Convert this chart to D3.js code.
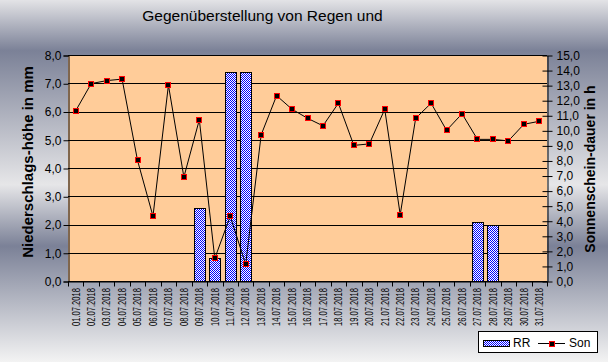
<!DOCTYPE html>
<html lang="de">
<head>
<meta charset="UTF-8">
<title>Gegenüberstellung von Regen und Sonnenschein</title>
<script src="https://d3js.org/d3.v7.min.js"></script>
<style>
    body { margin: 0; }
    svg { display: block; font-family: Arial, "Liberation Sans", sans-serif; }
</style>
</head>
<body>
<svg id="chart"></svg>
<script>
// Tage, Niederschlag (mm) und Sonnenscheindauer (h)
const days = ["01.07.2018","02.07.2018","03.07.2018","04.07.2018","05.07.2018","06.07.2018","07.07.2018","08.07.2018",
    "09.07.2018","10.07.2018","11.07.2018","12.07.2018","13.07.2018","14.07.2018","15.07.2018","16.07.2018",
    "17.07.2018","18.07.2018","19.07.2018","20.07.2018","21.07.2018","22.07.2018","23.07.2018","24.07.2018",
    "25.07.2018","26.07.2018","27.07.2018","28.07.2018","29.07.2018","30.07.2018","31.07.2018"];
const rain = [0,0,0,0,0,0,0,0, 2.6,0.8,7.4,7.4, 0,0,0,0, 0,0,0,0,0,0,0,0, 0,0, 2.1,2.0, 0,0,0];
const sun = [11.3,13.1,13.3,13.4,8.0,4.3,13.0,6.9, 10.7,1.5,4.3,1.1,9.7,12.3,11.4,10.8,
    10.3,11.8,9.0,9.1,11.4,4.4,10.8,11.8, 10.0,11.1,9.4,9.4,9.3,10.4,10.6];
const rainTicks = [0,1,2,3,4,5,6,7,8];
const sunTicks = d3.range(0, 16);
const titleText = "Gegenüberstellung von Regen und";
const leftTitle = "Niederschlags-höhe in mm";
const rightTitle = "Sonnenschein-dauer in h";
const legendNames = ["RR", "Son"];

const W = 608, H = 362;
const pLeft = 68, pRight = 547, pTop = 55, pBottom = 281;

const svg = d3.select("#chart").attr("width", W).attr("height", H);
const fmt = d => d.toFixed(1).replace(".", ",");

// Hintergrund-Verlauf
const defs = svg.append("defs");
const grad = defs.append("linearGradient").attr("id", "bg")
    .attr("x1", 0).attr("y1", 0).attr("x2", 0).attr("y2", 1);
[[0, "#e3e3e6"], [0.14, "#7b8197"], [0.51, "#e6e6e8"], [0.68, "#7b8197"], [1, "#f3f3f3"]]
    .forEach(s => grad.append("stop").attr("offset", s[0]).attr("stop-color", s[1]));

// Karo-Muster für die Balken
const pat = defs.append("pattern").attr("id", "checker")
    .attr("width", 2).attr("height", 2).attr("patternUnits", "userSpaceOnUse");
pat.append("rect").attr("width", 2).attr("height", 2).attr("fill", "#ffffff");
pat.append("rect").attr("width", 1).attr("height", 1).attr("fill", "#0000ff");
pat.append("rect").attr("x", 1).attr("y", 1).attr("width", 1).attr("height", 1).attr("fill", "#0000ff");

svg.append("rect").attr("width", W).attr("height", H).attr("fill", "url(#bg)");

svg.append("text")
    .attr("x", 262.5).attr("y", 21)
    .attr("text-anchor", "middle")
    .attr("font-size", "15.5px")
    .text(titleText);

const x = d3.scaleBand().domain(days).range([pLeft, pRight]).padding(0);
const yRain = d3.scaleLinear().domain([0, 8]).range([pBottom, pTop]);
const ySun = d3.scaleLinear().domain([0, 15]).range([pBottom, pTop]);

// Plotfläche
svg.append("rect")
    .attr("x", pLeft).attr("y", pTop)
    .attr("width", pRight - pLeft).attr("height", pBottom - pTop)
    .attr("fill", "#ffcc99");

// Gitterlinien
svg.append("g")
    .selectAll("line")
    .data(rainTicks)
    .enter().append("line")
    .attr("x1", pLeft).attr("x2", pRight)
    .attr("y1", d => Math.round(yRain(d)) + 0.5)
    .attr("y2", d => Math.round(yRain(d)) + 0.5)
    .attr("stroke", "#000")
    .attr("stroke-width", 1);

// Balken RR
const bw = x.bandwidth() * 0.73;
svg.append("g")
    .selectAll("rect")
    .data(days.map((d, i) => ({ day: d, v: rain[i] })).filter(d => d.v > 0))
    .enter().append("rect")
    .attr("x", d => Math.round(x(d.day) + (x.bandwidth() - bw) / 2) + 0.5)
    .attr("y", d => Math.round(yRain(d.v)) + 0.5)
    .attr("width", Math.round(bw))
    .attr("height", d => Math.round(yRain(0)) - Math.round(yRain(d.v)))
    .attr("fill", "url(#checker)")
    .attr("stroke", "#000")
    .attr("stroke-width", 1)
    .attr("shape-rendering", "crispEdges");

// Linie Son
const cx = d => x(d) + x.bandwidth() / 2;
svg.append("path")
    .datum(sun)
    .attr("fill", "none")
    .attr("stroke", "#000")
    .attr("stroke-width", 1)
    .attr("d", d3.line().x((d, i) => cx(days[i])).y(d => ySun(d)));

svg.append("g")
    .selectAll("rect")
    .data(sun)
    .enter().append("rect")
    .attr("x", (d, i) => Math.round(cx(days[i])) - 2.5)
    .attr("y", d => Math.round(ySun(d)) - 2.5)
    .attr("width", 5).attr("height", 5)
    .attr("fill", "#000")
    .attr("stroke", "#ff0000")
    .attr("stroke-width", 1)
    .attr("shape-rendering", "crispEdges");

// Achsen
const axL = svg.append("g")
    .attr("transform", "translate(" + (pLeft + 0.5) + ",0.5)")
    .call(d3.axisLeft(yRain).tickValues(rainTicks).tickFormat(fmt).tickSize(5).tickPadding(2));
const axR = svg.append("g")
    .attr("transform", "translate(" + (pRight + 0.5) + ",0.5)")
    .call(d3.axisRight(ySun).tickValues(sunTicks).tickFormat(fmt).tickSizeInner(5).tickSizeOuter(0).tickPadding(4));
axR.selectAll(".tick line").attr("x1", -5);

const axB = svg.append("g")
    .attr("transform", "translate(0," + (pBottom + 0.5) + ")")
    .call(d3.axisBottom(x).tickSize(0).tickFormat(""));
axB.selectAll(".tick").remove();
axB.append("g").selectAll("line")
    .data(days.concat(["end"]))
    .enter().append("line")
    .attr("x1", (d, i) => Math.round(pLeft + i * x.step()) + 0.5)
    .attr("x2", (d, i) => Math.round(pLeft + i * x.step()) + 0.5)
    .attr("y1", 0).attr("y2", 5)
    .attr("stroke", "#000");

[axL, axR, axB].forEach(a => {
    a.selectAll("path, line").attr("stroke", "#000");
    a.selectAll("text").attr("fill", "#000").attr("font-size", "12px").attr("font-family", "Arial, sans-serif");
});

// Oberer Rand
svg.append("line")
    .attr("x1", pLeft).attr("x2", pRight)
    .attr("y1", pTop + 0.5).attr("y2", pTop + 0.5)
    .attr("stroke", "#000");

// Datumsbeschriftung
svg.append("g")
    .selectAll("text")
    .data(days)
    .enter().append("text")
    .attr("transform", d => "translate(" + (cx(d) + 3.8) + ",288) rotate(-90)")
    .attr("text-anchor", "end")
    .attr("font-size", "10.5px")
    .attr("textLength", 38)
    .attr("lengthAdjust", "spacingAndGlyphs")
    .text(d => d);

// Achsentitel
svg.append("text")
    .attr("transform", "translate(33,162) rotate(-90)")
    .attr("text-anchor", "middle")
    .attr("font-weight", "bold")
    .attr("font-size", "15px")
    .text(leftTitle);
svg.append("text")
    .attr("transform", "translate(595,169) rotate(-90)")
    .attr("text-anchor", "middle")
    .attr("font-weight", "bold")
    .attr("font-size", "14px")
    .text(rightTitle);

// Legende
const lg = svg.append("g");
lg.append("rect")
    .attr("x", 478.5).attr("y", 331.5).attr("width", 119).attr("height", 21)
    .attr("fill", "#fff").attr("stroke", "#000");
lg.append("rect")
    .attr("x", 483.5).attr("y", 340.5).attr("width", 26).attr("height", 6)
    .attr("fill", "url(#checker)").attr("stroke", "#000")
    .attr("shape-rendering", "crispEdges");
lg.append("text").attr("x", 513).attr("y", 347).attr("font-size", "12px").text(legendNames[0]);
lg.append("line")
    .attr("x1", 538).attr("x2", 565).attr("y1", 343.5).attr("y2", 343.5)
    .attr("stroke", "#000");
lg.append("rect")
    .attr("x", 549.5).attr("y", 341).attr("width", 5).attr("height", 5)
    .attr("fill", "#000").attr("stroke", "#ff0000")
    .attr("shape-rendering", "crispEdges");
lg.append("text").attr("x", 569).attr("y", 347).attr("font-size", "12px").text(legendNames[1]);
</script>
</body>
</html>
